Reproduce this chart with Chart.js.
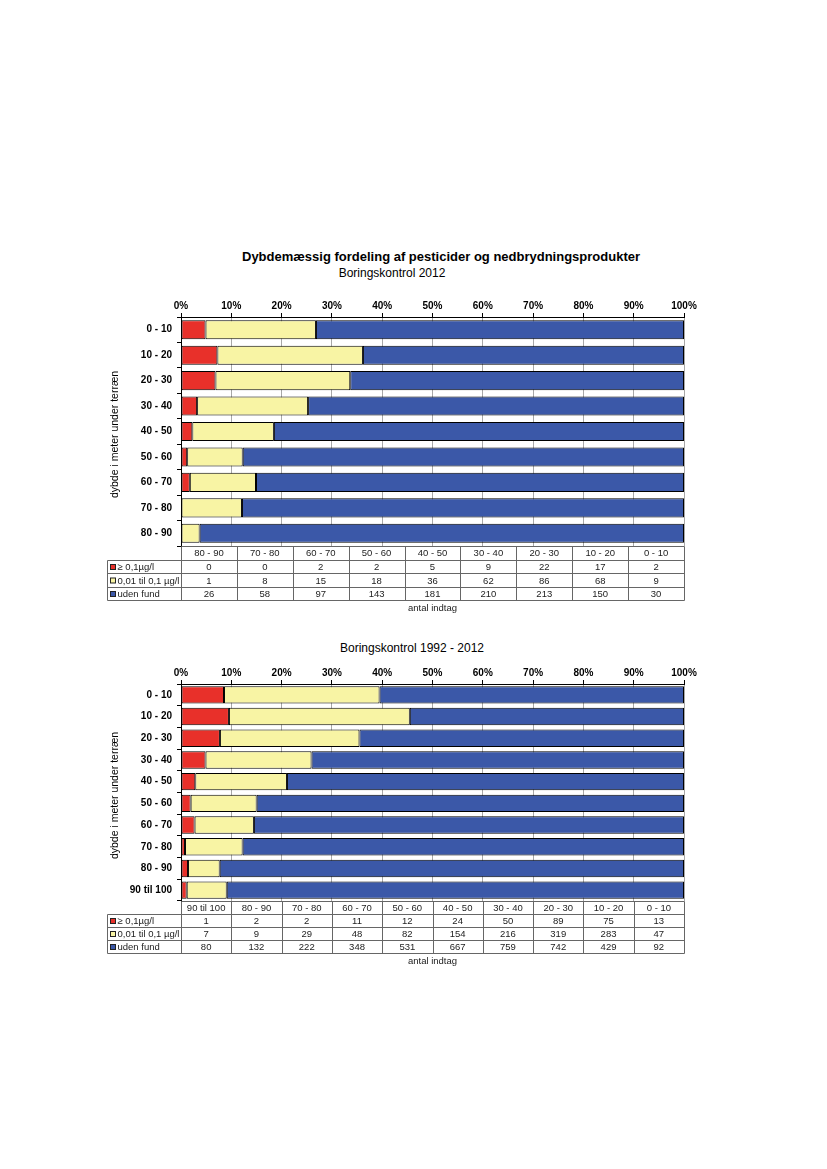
<!DOCTYPE html>
<html>
<head>
<meta charset="utf-8">
<script src="https://cdn.jsdelivr.net/npm/chart.js@4.4.1/dist/chart.umd.min.js"></script>
<style>
  body { margin: 0; background: #fff; width: 827px; height: 1169px; position: relative; font-family: Arial, "Liberation Sans", sans-serif; }
  .txt { position: absolute; white-space: nowrap; transform: translateX(-50%); line-height: 1; color: #000; }
  canvas { position: absolute; }
</style>
</head>
<body>
<div class="txt" style="left:441px; top:250px; font-size:13px; font-weight:bold;">Dybdemæssig fordeling af pesticider og nedbrydningsprodukter</div>
<div class="txt" style="left:392px; top:267px; font-size:12px;">Boringskontrol 2012</div>
<canvas id="chart2012" width="600" height="325" style="left:100px; top:296px;"></canvas>
<div class="txt" style="left:412px; top:642px; font-size:12px;">Boringskontrol 1992 - 2012</div>
<canvas id="chartAll" width="600" height="320" style="left:100px; top:663px;"></canvas>

<script>
// depth intervals, top to bottom (the table under each chart lists them the other way round)
const depths2012 = ['0 - 10', '10 - 20', '20 - 30', '30 - 40', '40 - 50', '50 - 60', '60 - 70', '70 - 80', '80 - 90'];
const high2012 = [2, 17, 22, 9, 5, 2, 2, 0, 0];
const low2012 = [9, 68, 86, 62, 36, 18, 15, 8, 1];
const none2012 = [30, 150, 213, 210, 181, 143, 97, 58, 26];

const depthsAll = ['0 - 10', '10 - 20', '20 - 30', '30 - 40', '40 - 50', '50 - 60', '60 - 70', '70 - 80', '80 - 90', '90 til 100'];
const highAll = [13, 75, 89, 50, 24, 12, 11, 2, 2, 1];
const lowAll = [47, 283, 319, 216, 154, 82, 48, 29, 9, 7];
const noneAll = [92, 429, 742, 759, 667, 531, 348, 222, 132, 80];

const seriesNames = ['\u2265 0,1\u00b5g/l', '0,01 til 0,1 \u00b5g/l', 'uden fund'];
const seriesColors = ['#E8302A', '#F8F4A4', '#3B58A8'];

const font = "Arial, 'Liberation Sans', sans-serif";

function toPercent(series, all) {
    return series.map((v, i) => {
        const total = all.reduce((s, arr) => s + arr[i], 0);
        return total ? v / total * 100 : 0;
    });
}

// draws the count table, the "antal indtag" caption and the y axis title
const tablePlugin = {
    id: 'countTable',
    afterDraw(chart, args, opts) {
        const ctx = chart.ctx;
        const a = chart.chartArea;
        const cols = opts.labels.slice().reverse();
        const n = cols.length;
        const cw = (a.right - a.left) / n;
        const top = Math.round(a.bottom) + 0.5;
        const left = Math.round(a.left) + 0.5;
        const right = Math.round(a.right) + 0.5;
        const x0 = opts.firstColLeft + 0.5;
        const rowY = r => Math.round(top + opts.headerH + r * opts.rowH) + 0.5;
        const bottom = rowY(3);

        ctx.save();
        ctx.strokeStyle = '#666';
        ctx.lineWidth = 1;
        ctx.beginPath();
        ctx.moveTo(left, top); ctx.lineTo(right, top);
        for (let r = 0; r <= 3; r++) {
            ctx.moveTo(x0, rowY(r)); ctx.lineTo(right, rowY(r));
        }
        for (let i = 0; i <= n; i++) {
            const x = Math.round(a.left + i * cw) + 0.5;
            ctx.moveTo(x, top); ctx.lineTo(x, bottom);
        }
        ctx.moveTo(x0, rowY(0)); ctx.lineTo(x0, bottom);
        ctx.stroke();

        ctx.font = '9.5px ' + font;
        ctx.fillStyle = '#222';
        ctx.textAlign = 'center';
        ctx.textBaseline = 'middle';
        cols.forEach((c, i) => ctx.fillText(c, a.left + (i + 0.5) * cw, top + opts.headerH / 2 + 0.5));

        opts.series.forEach((s, r) => {
            const yc = (rowY(r) + rowY(r + 1)) / 2 + 0.5;
            s.slice().reverse().forEach((v, i) => ctx.fillText(String(v), a.left + (i + 0.5) * cw, yc));
            // legend key
            ctx.fillStyle = seriesColors[r];
            ctx.fillRect(x0 + 3, yc - 3, 5, 5);
            ctx.strokeStyle = '#222';
            ctx.strokeRect(x0 + 3, yc - 3, 5, 5);
            ctx.fillStyle = '#222';
            ctx.textAlign = 'left';
            ctx.fillText(seriesNames[r], x0 + 10, yc);
            ctx.textAlign = 'center';
        });

        ctx.fillText('antal indtag', (a.left + a.right) / 2, bottom + opts.captionGap);

        ctx.translate(opts.titleX, (a.top + a.bottom) / 2 + 3);
        ctx.rotate(-Math.PI / 2);
        ctx.font = '10.5px ' + font;
        ctx.fillStyle = '#000';
        ctx.fillText('dybde i meter under terr\u00e6n', 0, 0);
        ctx.restore();
    }
};

function makeChart(id, labels, high, low, none, barPct, padBottom, headerH, rowH) {
    const all = [high, low, none];
    const data = {
        labels: labels,
        datasets: all.map((s, i) => ({
            label: seriesNames[i],
            data: toPercent(s, all),
            backgroundColor: seriesColors[i],
            borderColor: '#000',
            borderWidth: 1,
            borderSkipped: false,
            barPercentage: barPct,
            categoryPercentage: 1
        }))
    };
    return new Chart(document.getElementById(id), {
        type: 'bar',
        data: data,
        options: {
            indexAxis: 'y',
            responsive: false,
            animation: false,
            layout: { padding: { left: 0, right: 16, top: 0, bottom: padBottom } },
            plugins: {
                legend: { display: false },
                tooltip: { enabled: false },
                title: { display: false },
                countTable: {
                    labels: labels,
                    series: all,
                    firstColLeft: 7,
                    headerH: headerH,
                    rowH: rowH,
                    captionGap: 8,
                    titleX: 15
                }
            },
            scales: {
                x: {
                    position: 'top',
                    stacked: true,
                    min: 0,
                    max: 100,
                    afterFit: s => { s.height = 21; },
                    ticks: {
                        stepSize: 10,
                        callback: v => v + '%',
                        color: '#000',
                        padding: 1,
                        font: { family: font, size: 10, weight: 'bold' }
                    },
                    grid: { color: '#a8a8a8', tickColor: '#000', tickLength: 4, lineWidth: 1 },
                    border: { display: true, color: '#000', width: 1 }
                },
                y: {
                    stacked: true,
                    afterFit: s => { s.width = 81; },
                    ticks: {
                        color: '#000',
                        padding: 5,
                        font: { family: font, size: 10, weight: 'bold' }
                    },
                    grid: { drawOnChartArea: false, color: '#000', tickLength: 4 },
                    border: { display: true, color: '#000', width: 1 }
                }
            }
        },
        plugins: [tablePlugin]
    });
}

makeChart('chart2012', depths2012, high2012, low2012, none2012, 0.75, 75, 13, 13.5);
makeChart('chartAll', depthsAll, highAll, lowAll, noneAll, 0.8, 82, 12, 13);
</script>
</body>
</html>
